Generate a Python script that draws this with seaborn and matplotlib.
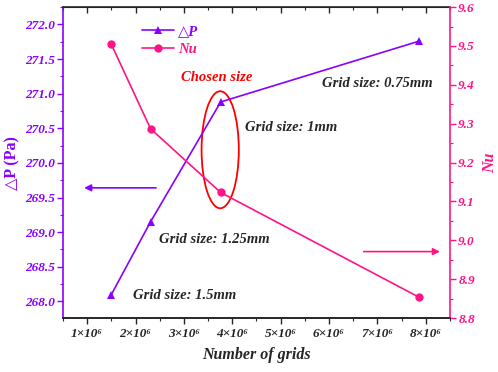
import pandas as pd
import seaborn as sns
import matplotlib.pyplot as plt
from matplotlib.patches import Ellipse
from matplotlib.ticker import MultipleLocator, FixedLocator

# grid independence data
grids = [1.5e6, 2.31e6, 3.76e6, 7.87e6]
dp = [268.10, 269.15, 270.88, 271.76]
nu = [9.504, 9.287, 9.123, 8.853]
grid_sizes = ["Grid size: 1.5mm", "Grid size: 1.25mm", "Grid size: 1mm", "Grid size: 0.75mm"]
xticks = [1e6, 2e6, 3e6, 4e6, 5e6, 6e6, 7e6, 8e6]
xticklabels = ["1×10⁶", "2×10⁶", "3×10⁶", "4×10⁶", "5×10⁶", "6×10⁶", "7×10⁶", "8×10⁶"]
dp_ticks = [268.0, 268.5, 269.0, 269.5, 270.0, 270.5, 271.0, 271.5, 272.0]
nu_ticks = [8.8, 8.9, 9.0, 9.1, 9.2, 9.3, 9.4, 9.5, 9.6]

df = pd.DataFrame({"grids": grids, "dp": dp, "nu": nu})

purple = "#8A00FF"
pink = "#FF1488"

sns.set_style("ticks")
plt.rcParams['font.family'] = ['Liberation Serif', 'DejaVu Sans']
plt.rcParams['font.weight'] = 'bold'
plt.rcParams['font.style'] = 'italic'

fig = plt.figure(figsize=(4.98, 3.72), dpi=100)
ax = fig.add_axes([0.1265, 0.145, 0.777, 0.836])
ax2 = ax.twinx()

sns.lineplot(data=df, x="grids", y="dp", ax=ax, color=purple, marker="^",
             markersize=6, markeredgewidth=0, linewidth=1.2, label="△P", legend=False)
sns.lineplot(data=df, x="grids", y="nu", ax=ax2, color=pink, marker="o",
             markersize=6, markeredgewidth=0, linewidth=1.2, label="Nu", legend=False)

ax.set_xlim(0.5e6, 8.5e6)
ax.set_ylim(267.76, 272.25)
ax2.set_ylim(8.8, 9.6)

ax.xaxis.set_major_locator(FixedLocator(xticks))
ax.set_xticklabels(xticklabels)
ax.xaxis.set_minor_locator(MultipleLocator(0.5e6))
ax.set_yticks(dp_ticks)
ax.set_yticklabels([f"{v:.1f}" for v in dp_ticks])
ax.yaxis.set_minor_locator(MultipleLocator(0.25))
ax2.set_yticks(nu_ticks)
ax2.set_yticklabels([f"{v:.1f}" for v in nu_ticks])
ax2.yaxis.set_minor_locator(MultipleLocator(0.05))

ax.tick_params(axis="x", direction="out", length=4, width=1, labelsize=9.5, pad=3)
ax.tick_params(axis="x", which="minor", direction="out", length=2.5, width=0.8)
ax.tick_params(axis="y", direction="out", length=4, width=1, labelsize=9.5,
               colors=purple, pad=2)
ax.tick_params(axis="y", which="minor", direction="out", length=2.5, width=0.8, colors=purple)
ax2.tick_params(axis="y", direction="out", length=4, width=1, labelsize=9.5,
                colors=pink, pad=2)
ax2.tick_params(axis="y", which="minor", direction="out", length=2.5, width=0.8, colors=pink)

top = ax.secondary_xaxis("top")
top.xaxis.set_major_locator(FixedLocator(xticks))
top.xaxis.set_minor_locator(MultipleLocator(0.5e6))
top.tick_params(direction="in", length=4, width=1, labeltop=False)
top.tick_params(which="minor", direction="in", length=2.5, width=0.8)

for a in (ax, ax2):
    for s in a.spines.values():
        s.set_linewidth(1.2)
ax.spines["left"].set_color(purple)
ax.spines["right"].set_visible(False)
ax2.spines["left"].set_visible(False)
ax2.spines["right"].set_color(pink)
ax2.spines["top"].set_visible(False)

ax.set_xlabel("Number of grids", fontsize=11.5, fontweight="bold", labelpad=5)
ax.set_ylabel("△P (Pa)", fontsize=11.5, fontweight="bold", fontstyle="normal",
              color=purple, labelpad=3)
ax2.set_ylabel("Nu", fontsize=11.5, fontweight="bold", color=pink, labelpad=5)

# legend
h1, l1 = ax.get_legend_handles_labels()
h2, l2 = ax2.get_legend_handles_labels()
leg = ax.legend(h1 + h2, l1 + l2, loc="upper left", bbox_to_anchor=(0.17, 0.985),
                frameon=False, fontsize=10.5, handlelength=2.2, handletextpad=0.3,
                labelspacing=0.3)
for txt, c in zip(leg.get_texts(), [purple, pink]):
    txt.set_color(c)

# annotations
txt_kw = dict(fontsize=10.5, fontweight="bold", fontstyle="italic", va="center", ha="left")
ax.text(5.85e6, 271.15, grid_sizes[3], **txt_kw)
ax.text(4.26e6, 270.51, grid_sizes[2], **txt_kw)
ax.text(2.48e6, 268.89, grid_sizes[1], **txt_kw)
ax.text(1.94e6, 268.09, grid_sizes[0], **txt_kw)
ax.text(2.95e6, 271.23, "Chosen size", color="red", **txt_kw)

ax.add_patch(Ellipse((3.75e6, 270.19), 0.77e6, 1.69, fill=False, edgecolor="red", linewidth=1.3))

ax.annotate("", xy=(0.88e6, 269.64), xytext=(2.48e6, 269.64),
            arrowprops=dict(arrowstyle="-|>", color=purple, lw=1.2, mutation_scale=10))
ax2.annotate("", xy=(8.35e6, 8.971), xytext=(6.66e6, 8.971),
             arrowprops=dict(arrowstyle="-|>", color=pink, lw=1.2, mutation_scale=10))

plt.savefig("out.png", dpi=100)
